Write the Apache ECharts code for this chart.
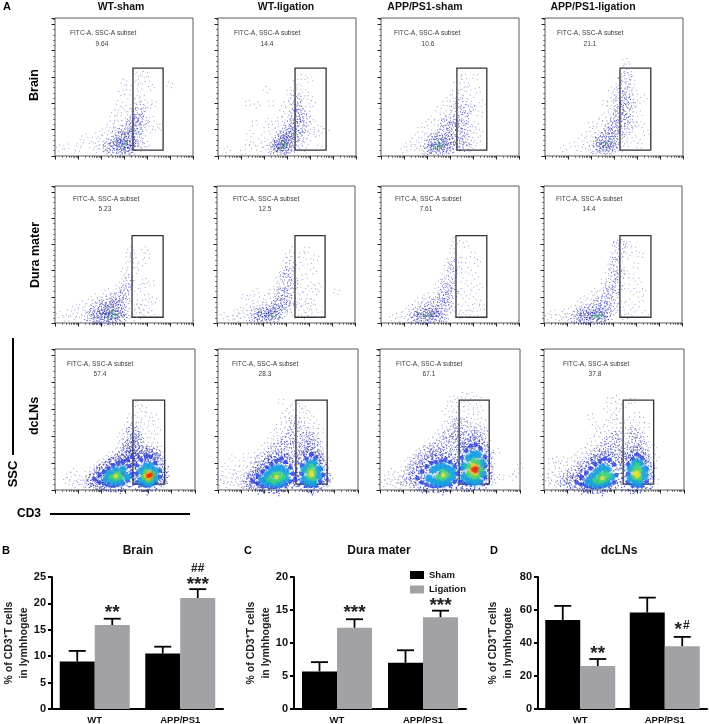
<!DOCTYPE html>
<html><head><meta charset="utf-8">
<style>html,body{margin:0;background:#fff}#main{width:709px;height:724px;filter:blur(0.35px)}</style>
<script src="https://cdn.jsdelivr.net/npm/echarts@6/dist/echarts.min.js"></script>
</head><body><div id="main"></div>
<script>
// ---- bar chart data
const barCats=['WT','APP/PS1'];
const brainSham=[9.0,10.5], brainLig=[15.9,21.0], brainShamErr=[11.0,11.8], brainLigErr=[17.1,22.7];
const duraSham=[5.7,7.0], duraLig=[12.3,13.9], duraShamErr=[7.1,8.9], duraLigErr=[13.6,14.9];
const lnSham=[54,58.5], lnLig=[26,38], lnShamErr=[62.5,67.5], lnLigErr=[30.3,43.7];
// significance marks: [category, height, text]
const brainMarks=[[0,18.9,'**'],[1,24.2,'***'],[1,26.6,'##']];
const duraMarks=[[0,15.2,'***'],[1,16.3,'***']];
const lnMarks=[[0,35.7,'**'],[1,50.5,'*#']];
// ---- flow panel texts
const colTitles=['WT-sham','WT-ligation','APP/PS1-sham','APP/PS1-ligation'];
const gateLabel='FITC-A, SSC-A subset';
const pctBrain=['9.64','14.4','10.6','21.1'], pctDura=['5.23','12.5','7.61','14.4'], pctLn=['57.4','28.3','67.1','37.8'];
// ---- gates (x: tenths of a log decade, y: SSC in K)
const gateY=[11,167];
const gateXBrain=[[33.9,47],[33.5,47],[33,46],[32.6,46]];
const gateXDura=[[33.5,47],[33.9,47],[32.6,46],[33,46.5]];
const gateXLn=[[33.4,47],[33.4,46.8],[33.9,46.8],[33.9,47]];
// ---- events, flat x,y lists
const sparseB1=[2,15,5,18,10,14,11,25,13,36,16,20,17,30,18,13,19,42,20,24,20,16,21,33,22,50,22,13,23,28,24,60,24,38,25,72,26,50,26,82,27,60,28,72,28,100,29,88,29,120,30,62,30,140,31,90,32,70,32,130,33,110,33,78,34,95,35,120,35,150,36,140,36,105,37,132,37,160,38,40,38,110,39,155,39,90,40,22,40,146,41,96,41,50,42,130,42,70,43,100,39,18,36,16,37,24,50,135,46,55,44,55,38,14,35,28,33,84];
const denseB1=[24,20,26,15,27,24,28,18,29,30,30,14,30,22,31,26,31,36,32,18,32,44,33,24,33,30,34,40,34,20,35,50,29,38,28,13,26,29,25,17,23,14,30,48,33,58,35,62,36,70,36,80,34,66,31,52,27,42,32,12,34,13,36,34,37,56,37,90,38,68,29,22,31,16];
const greenB1=[29,20,31,24];
const sparseB2=[4,12,11,8,13,25,14,42,15,20,16,62,18,14,19,34,20,22,21,50,22,14,22,66,23,30,23,100,24,44,25,60,26,50,27,70,28,90,29,74,30,100,31,120,32,105,33,130,34,140,35,130,35,20,36,110,36,34,37,150,37,14,38,120,38,50,39,90,39,28,40,70,40,145,41,46,41,100,42,60,43,42,44,16,45,50,47,50,34,14,36,24,21,126,17,97,13,100,40,110];
const denseB2=[24,14,25,20,26,12,26,26,27,16,27,32,28,22,28,12,29,30,29,18,29,40,30,14,30,26,30,48,31,36,31,56,32,22,32,44,33,64,33,80,33,52,34,72,34,96,34,110,35,60,35,88,26,18,27,24,28,36,30,34,32,30,31,16,34,40,36,56,36,80,37,38,38,70];
const greenB2=[28,18,29,24,28,28,27,14,30,20];
const sparseB3=[10,12,12,22,14,16,15,34,16,20,17,50,18,14,19,36,19,60,20,26,21,46,22,70,23,40,24,64,25,88,26,56,27,76,28,100,29,80,30,110,31,92,32,120,33,105,33,140,34,130,34,150,35,120,36,110,36,150,37,135,37,80,38,60,38,128,39,40,39,110,40,20,40,90,41,150,41,60,42,30,42,125,43,80,43,44,44,100,35,14,38,14,40,50];
const denseB3=[20,12,21,18,22,14,23,24,23,12,24,18,25,32,25,14,26,22,26,40,27,16,27,28,28,48,28,20,29,34,29,14,30,42,30,24,31,56,31,16,32,30,32,66,33,48,33,86,34,60,34,24,35,100,35,40,36,72,36,18,37,50,37,30,38,90,22,30,24,34,27,12,28,60,30,70];
const greenB3=[25,20,26,16,24,14,27,22,25,26,23,18];
const sparseB4=[8,14,12,22,15,14,16,34,18,20,19,42,20,14,21,30,22,50,23,40,24,64,25,72,27,80,28,100,29,84,30,110,31,120,32,135,33,150,34,165,35,180,36,170,36,142,37,130,37,155,38,140,38,90,38,40,39,120,39,60,40,30,40,100,41,80,41,20,42,60,43,110,44,44,35,30,36,24,34,14,20,60,26,100,29,125];
const denseB4=[22,14,23,22,24,18,24,32,25,26,25,14,26,36,26,20,27,44,27,28,28,18,28,52,29,34,29,62,30,26,30,46,31,72,31,54,32,40,32,84,32,100,33,62,33,112,33,76,34,92,34,130,34,48,35,106,35,70,35,150,36,120,36,84,37,60,37,100,27,12,29,14,31,22];
const greenB4=[27,24,28,32,29,26];
const sparseD1=[2,16,5,8,6,20,8,12,9,30,10,6,11,22,12,36,13,12,14,28,15,40,16,22,17,50,18,6,19,42,21,50,23,60,25,52,27,60,28,72,29,66,30,80,30,100,31,92,32,112,32,130,33,120,33,140,34,128,35,110,35,100,36,60,36,24,37,40,37,14,38,115,38,70,38,30,39,20,39,140,40,50,40,128,41,34,42,18,42,76,43,44,34,10,35,30,39,80];
const denseD1=[15,14,16,8,17,20,18,12,18,28,19,6,20,18,20,34,21,10,21,26,22,42,22,6,23,16,23,30,24,10,24,22,24,38,25,6,25,16,25,28,26,46,26,12,27,22,27,36,28,8,28,18,28,50,29,30,29,12,30,42,30,56,31,20,31,66,32,80,22,14,20,10,26,34,23,24];
const greenD1=[24,20,25,24,26,18,25,12,23,10,27,16];
const sparseD2=[3,14,6,10,8,18,9,8,10,24,11,14,12,50,13,30,13,10,14,20,15,48,16,32,17,60,18,24,19,44,20,34,22,50,24,60,25,44,26,70,27,84,28,92,29,100,30,120,31,130,32,96,33,140,34,126,34,80,35,50,35,30,36,110,36,62,37,130,37,40,38,14,38,88,39,140,39,60,40,20,40,118,41,40,41,72,42,100,42,30,43,125,43,60,44,70,45,16,52,60,34,15,38,30,40,42];
const denseD2=[16,12,17,18,18,10,19,14,20,20,21,10,21,26,22,14,23,22,23,9,24,16,24,30,25,12,25,24,26,36,26,16,27,28,27,44,28,20,28,56,29,36,29,70,30,50,30,84,31,60,31,96,32,44,32,110,33,76,32,30];
const greenD2=[23,15,24,12,27,10];
const sparseD3=[5,10,8,16,9,6,11,22,12,10,13,30,14,20,15,36,16,26,17,44,18,32,19,40,20,52,22,44,24,60,25,74,26,56,27,80,28,96,29,110,30,120,31,138,32,150,33,126,33,160,34,100,34,30,35,60,35,14,36,120,36,80,37,46,37,150,38,20,38,100,39,70,39,30,40,130,40,56,41,90,41,18,42,40,42,115,43,70,44,30,33,16];
const denseD3=[14,8,15,14,16,10,17,18,18,8,18,24,19,12,20,18,20,8,21,28,21,14,22,10,22,22,23,16,23,34,24,10,24,24,25,14,25,42,26,30,26,18,27,50,27,10,28,36,28,62,29,48,29,80,30,70,31,96,31,56,32,110,30,30];
const greenD3=[21,14,22,16,19,14];
const sparseD4=[2,12,4,20,6,10,8,16,9,6,10,22,11,14,12,8,13,28,14,18,15,36,16,22,17,46,18,32,20,50,22,60,24,56,26,80,27,70,28,96,29,110,30,130,31,150,32,112,33,120,34,140,34,36,35,100,35,12,36,70,36,128,37,40,37,150,38,90,38,20,39,60,39,140,40,110,40,30,41,80,42,46,42,130,43,60,44,18,34,20];
const denseD4=[14,10,15,16,16,8,17,14,18,20,18,10,19,8,19,26,20,14,21,10,21,22,22,30,22,8,23,16,23,36,24,12,24,24,25,8,25,40,25,18,26,30,26,12,27,48,27,22,28,60,28,14,29,40,29,74,30,90,30,54,31,110,31,30,32,130,32,70,33,150,33,92];
const greenD4=[22,14,23,12,24,16,24,10,25,14,21,12];
// lymph-node panels
const sparseL1=[5,18,6,28,7,14,8,34,9,10,10,22,11,16,12,12,13,22,14,30,14,10,15,18,16,24,16,38,17,12,18,46,19,36,20,52,21,46,22,58,23,50,24,66,25,60,26,72,27,64,28,82,28,100,29,90,30,110,30,78,31,100,31,120,32,90,32,130,33,115,33,140,34,120,34,100,35,150,35,84,36,162,36,130,36,100,37,124,37,84,38,150,38,72,39,110,39,92,40,140,40,70,41,80,41,124,42,100,42,66,43,134,43,84,44,70,44,110,45,64,46,52,46,76,47,40,47,14,48,30,46,10];
const denseL1=[30,60,31,70,32,66,32,84,33,74,33,95,34,80,34,110,35,88,35,100,34,60,33,56,31,84,30,74,29,64,36,66,37,70,38,62,39,74,40,66,41,72,42,62,43,68,44,56,45,50,44,42,46,30,46,22,28,56,26,54,24,50,22,44,20,40,18,32,16,20,15,14,17,10,19,8,21,8,34,68,35,76,36,90,33,108];
const blueL1=[17,20,19,14,19,28,21,12,21,34,23,10,23,40,25,8,25,46,27,10,27,50,29,12,29,52,31,18,31,56,33,30,33,62,32,44,23,24,29,30,35,14,35,30,35,46,37,10,37,56,39,8,39,62,41,10,41,62,43,14,43,50,45,24,45,36,40,30];
const cyanL1=[22,20,23,30,25,16,26,36,28,16,29,38,31,24,25,26,37,18,37,36,39,14,39,44,41,14,41,44,43,22,43,36];
const limeL1=[24,24,26,22,27,30,28,24,38,24,39,34,41,22,42,30,40,18];
const yellowL1=[26,26,39,26,40,31,41,26,40,22];
const redL1=[40,26,41,28];
const sparseL2=[1,14,1,30,2,22,3,44,4,10,5,18,6,34,6,60,7,14,7,26,8,40,9,16,9,30,10,50,10,10,11,22,12,36,12,64,13,18,14,44,14,28,15,56,16,36,17,70,18,50,19,62,19,40,20,82,21,66,22,92,23,78,24,106,25,90,26,118,26,70,27,100,28,130,28,84,29,110,29,142,30,96,30,120,31,106,31,150,32,130,32,90,33,160,33,110,34,120,34,70,35,150,35,90,36,130,36,76,37,100,37,150,38,120,38,66,39,90,39,140,40,110,40,70,41,130,41,84,42,100,42,120,43,70,43,90,44,110,44,66,45,84,45,50,46,70,46,40,47,54,48,24,27,165];
const denseL2=[12,12,13,20,14,14,15,26,16,10,16,34,17,20,17,44,18,30,18,54,19,12,20,44,21,60,22,52,23,70,24,60,25,78,26,56,27,84,28,66,29,90,30,70,31,96,32,60,32,110,33,80,33,130,34,90,30,54,31,50,35,60,36,56,36,74,37,80,38,70,39,84,40,76,41,90,42,76,42,60,43,58,44,50,45,36,45,22,46,16,38,100,40,96,37,110];
const blueL2=[15,16,17,12,17,26,19,8,19,34,21,8,21,42,23,6,23,48,25,6,25,54,27,8,27,58,29,10,29,52,31,16,31,42,32,30,33,20,24,26,36,14,36,30,36,46,38,8,38,58,40,8,40,66,42,8,42,60,44,16,44,40,45,28];
const cyanL2=[19,18,21,14,21,28,23,14,23,36,25,12,25,40,27,14,27,40,29,20,29,34,37,20,37,38,39,14,39,48,41,14,41,50,43,26,43,38];
const limeL2=[22,20,24,16,24,28,26,20,26,30,28,24,39,24,39,36,41,22,41,34,40,44];
const yellowL2=[25,24,40,28,40,33];
const redL2=[];
const sparseL3=[2,12,3,24,4,16,5,34,6,14,7,28,8,8,9,20,10,14,10,40,11,28,12,54,12,18,13,36,14,10,14,60,15,44,16,28,16,68,17,50,18,74,19,58,20,84,21,66,22,92,23,78,24,100,25,86,26,110,27,94,28,122,28,146,29,104,30,160,30,130,31,112,31,170,32,140,32,100,33,150,33,120,34,166,34,132,35,110,35,150,36,176,36,126,37,104,37,160,38,130,38,110,39,176,39,146,40,120,40,160,41,100,41,136,42,170,42,116,43,150,43,96,44,128,44,100,45,110,45,80,46,90,46,50,47,64,47,30,48,46,49,24,50,72,52,24,58,30,57,24,60,44];
const denseL3=[10,20,12,30,13,14,14,40,15,24,15,50,16,12,17,34,17,58,18,44,19,66,20,54,21,72,22,62,23,76,24,70,25,80,26,66,27,90,28,72,29,100,30,80,31,110,32,90,32,70,33,122,33,100,34,110,34,84,35,124,36,96,37,84,38,100,39,110,40,90,41,100,42,90,43,110,44,84,45,66,46,40,46,24,47,18,35,76,34,60,36,78,45,52];
const blueL3=[16,22,18,14,18,34,20,10,20,44,22,8,22,50,24,8,24,52,26,8,26,54,28,10,28,56,30,10,30,52,32,16,32,44,33,30,26,30,35,16,35,40,35,60,37,12,37,74,39,12,39,82,41,14,41,84,43,14,43,78,45,24,45,44,45,62,41,50];
const cyanL3=[21,22,23,16,23,38,25,14,25,42,27,14,27,44,29,16,29,40,31,24,31,36,36,24,36,44,38,18,38,60,40,16,40,66,42,16,42,66,44,30,44,50];
const limeL3=[25,24,27,22,27,34,29,28,38,30,38,44,40,24,40,54,42,26,42,50,43,38];
const yellowL3=[27,28,39,36,41,30,41,44,40,46];
const redL3=[40,38,41,36,41,40];
const sparseL4=[0,24,1,12,1,36,2,18,3,28,3,54,4,14,5,34,5,56,6,10,6,46,7,24,8,40,8,14,9,56,10,30,11,18,11,50,12,36,13,60,14,26,14,48,15,66,16,40,17,74,18,56,19,80,20,66,21,94,22,70,23,104,24,82,25,112,26,90,27,124,27,150,28,102,28,166,29,130,29,110,30,136,30,100,31,144,31,170,32,120,32,156,33,100,33,130,34,120,34,76,35,160,35,90,36,110,36,70,37,130,37,84,38,166,38,100,39,120,39,76,40,140,40,90,41,110,41,72,42,130,42,84,43,100,43,60,44,120,44,70,45,84,45,40,46,60,46,24,47,78,47,44,48,16,48,60,22,120,20,136];
const denseL4=[8,18,9,10,10,24,11,12,12,30,13,14,14,36,15,20,16,44,17,28,18,50,19,14,20,58,21,46,22,66,23,54,24,72,25,60,26,80,27,66,28,90,29,72,30,96,31,76,32,100,33,84,32,66,34,60,35,56,36,72,37,60,38,84,39,64,40,90,41,70,42,80,42,56,43,60,44,46,44,30,45,22,38,106,40,104,31,56];
const blueL4=[14,14,16,10,16,24,18,8,18,32,20,6,20,40,22,6,22,48,24,6,24,54,26,8,26,58,28,10,28,56,30,14,30,48,31,28,24,26,36,14,36,30,36,48,38,8,38,58,40,8,40,66,42,8,42,60,44,16,44,40];
const cyanL4=[19,16,21,12,21,26,23,12,23,34,25,12,25,42,27,14,27,38,29,24,37,22,37,40,39,14,39,50,41,14,41,50,43,26,43,38];
const limeL4=[22,18,24,16,24,26,26,20,26,30,28,26,39,24,39,38,41,22,41,36,40,46];
const yellowL4=[25,22,40,26,40,32,39,30];
const redL4=[];
// ---- layout
const rows=[
 {top:18,h:138,lefts:[55,218,381,545],w:138,gx:gateXBrain,pct:pctBrain,
  lab:[[70,33],[234,33],[394,33],[557,33]],val:[[102,44],[267,44],[428,44],[590,44]],
  layers:[[sparseB1,denseB1,greenB1],[sparseB2,denseB2,greenB2],[sparseB3,denseB3,greenB3],[sparseB4,denseB4,greenB4]]},
 {top:186,h:137,lefts:[55,217,381,544],w:138,gx:gateXDura,pct:pctDura,
  lab:[[73,199],[233,199],[395,199],[556,199]],val:[[105,209],[265,209],[426,209],[589,209]],
  layers:[[sparseD1,denseD1,greenD1],[sparseD2,denseD2,greenD2],[sparseD3,denseD3,greenD3],[sparseD4,denseD4,greenD4]]},
 {top:349,h:141,lefts:[55,218,380,544],w:140,gx:gateXLn,pct:pctLn,
  lab:[[67,364],[232,364],[396,364],[563,364]],val:[[100,374],[265,374],[429,374],[595,374]],
  layers:[[sparseL1,denseL1,[],blueL1,cyanL1,limeL1,yellowL1,redL1],[sparseL2,denseL2,[],blueL2,cyanL2,limeL2,yellowL2,redL2],[sparseL3,denseL3,[],blueL3,cyanL3,limeL3,yellowL3,redL3],[sparseL4,denseL4,[],blueL4,cyanL4,limeL4,yellowL4,redL4]]}
];
// speckle glyphs: each read event position is drawn as a small spray of pixels
const sq=(x,y,s)=>`M${x} ${y}h${s}v${s}h${-s}z`;
const glyph=(list,s)=>'path://'+list.map(d=>sq(d[0],d[1],s)).join('');
const spray4=glyph([[0,3],[4.6,0],[8.6,5.5],[3,8.6]],1.4);
const spray14=glyph([[0,5],[1.5,1.5],[3,7.5],[4,3],[5.5,0],[6,5.5],[7.5,2.5],[9.2,0.5],[2,9.2],[5,9],[8,8],[9.2,4.5],[0.5,8],[7,6.8]],0.8);
const layerStyles=[
 {c:'#8386bb',s:7,z:2,sym:spray4},{c:'#2428a8',s:11,z:3,sym:spray14},{c:'#3fae6c',s:2.2,z:4},
 {c:'#2a3fe0',s:4.5,z:3},{c:'#169fe6',s:7,z:5},{c:'#38d47e',s:5.5,z:6},{c:'#e6e22e',s:4.5,z:7},{c:'#ee2c10',s:4.5,z:8}];
const pairs=a=>{const r=[];for(let i=0;i<a.length;i+=2)r.push([a[i],a[i+1]]);return r;};
const minorX=[];for(let d=0;d<6;d++)for(let k=2;k<10;k++)minorX.push(10*(d+Math.log10(k)));
const turn=(v,p)=>p.dataIndex*67%360;

const grid=[],xAxis=[],yAxis=[],series=[],graphic=[];
const txt=(x,y,text,font,extra)=>graphic.push({type:'text',x,y,rotation:(extra&&extra.rot)||0,z:50,silent:true,
  style:{text,font,fill:(extra&&extra.fill)||'#111',align:(extra&&extra.align)||'center',verticalAlign:'middle'}});
const F='"Liberation Sans",Arial,sans-serif';
rows.forEach(r=>{
 r.lefts.forEach((left,i)=>{
  const g=grid.length;
  grid.push({left,top:r.top,width:r.w,height:r.h,show:true,borderColor:'#5a5a5a',borderWidth:1,backgroundColor:'#fff',outerBoundsMode:'none'});
  const xi=xAxis.length;
  xAxis.push({gridIndex:g,type:'value',position:'bottom',min:0,max:60,interval:10,axisLabel:{show:false},splitLine:{show:false},axisLine:{show:false},
    axisTick:{length:3.5,lineStyle:{color:'#222',width:1}}});
  xAxis.push({gridIndex:g,type:'value',position:'bottom',min:0,max:60,interval:10,axisLabel:{show:false},splitLine:{show:false},axisLine:{show:false},
    axisTick:{length:1.8,customValues:minorX,lineStyle:{color:'#444',width:0.8}}});
  const yi=yAxis.length;
  yAxis.push({gridIndex:g,type:'value',min:0,max:262,interval:50,axisLabel:{show:false},splitLine:{show:false},axisLine:{show:false},
    axisTick:{length:3.5,lineStyle:{color:'#222',width:1}},minorTick:{show:true,splitNumber:5,length:1.8,lineStyle:{color:'#444',width:0.8}}});
  r.layers[i].forEach((arr,li)=>{
   if(!arr.length)return;
   const st=layerStyles[li];
   if(li===3) series.push({type:'scatter',xAxisIndex:xi,yAxisIndex:yi,data:pairs(arr),symbol:spray14,symbolSize:15,symbolRotate:turn,z:2,silent:true,itemStyle:{color:'#1a24b8'}});
   series.push({type:'scatter',xAxisIndex:xi,yAxisIndex:yi,data:pairs(arr),silent:true,z:st.z,symbolSize:st.s,
     ...(st.sym?{symbol:st.sym,symbolRotate:turn}:{}),
     itemStyle:li>=4?{color:st.c,shadowBlur:4,shadowColor:st.c}:{color:st.c}});
  });
  const gx=r.gx[i];
  series.push({type:'scatter',xAxisIndex:xi,yAxisIndex:yi,data:[],z:9,silent:true,
    markArea:{silent:true,itemStyle:{color:'rgba(0,0,0,0)',borderColor:'#333',borderWidth:1.3},
      data:[[{coord:[gx[0],gateY[0]]},{coord:[gx[1],gateY[1]]}]]}});
  txt(r.lab[i][0],r.lab[i][1],gateLabel,'6.6px '+F,{align:'left',fill:'#3c3c3c'});
  txt(r.val[i][0],r.val[i][1],r.pct[i],'6.6px '+F,{fill:'#3c3c3c'});
 });
});
// bar panels
const GREY='#a2a2a6';
const barPanels=[
 {left:52,w:171,max:25,step:5,gap:20,sham:brainSham,lig:brainLig,se:brainShamErr,le:brainLigErr,marks:brainMarks},
 {left:294,w:172,max:20,step:5,gap:20,sham:duraSham,lig:duraLig,se:duraShamErr,le:duraLigErr,marks:duraMarks},
 {left:538,w:169,max:80,step:20,gap:22,sham:lnSham,lig:lnLig,se:lnShamErr,le:lnLigErr,marks:lnMarks}];
const HALF=17.5;
const bold=(size,color)=>({fontFamily:'Liberation Sans',fontWeight:'bold',fontSize:size,color});
const markEl=(t,x,y)=>{
  const h=t.startsWith('#');
  return {type:'text',x,y:y+(h?0:4),style:{text:t,align:'center',verticalAlign:'middle',fill:'#222',font:(h?'bold 12px ':'bold 19px ')+F}};
};
barPanels.forEach(p=>{
 const g=grid.length, xi=xAxis.length, yi=yAxis.length;
 grid.push({left:p.left,top:577,width:p.w,height:132,outerBoundsMode:'none'});
 xAxis.push({gridIndex:g,type:'category',data:barCats,axisTick:{show:false},axisLine:{lineStyle:{color:'#000',width:2}},
   axisLabel:{margin:6,...bold(9.5,'#111')}});
 yAxis.push({gridIndex:g,type:'value',min:0,max:p.max,interval:p.step,splitLine:{show:false},
   axisLine:{show:true,lineStyle:{color:'#000',width:2}},axisTick:{show:true,length:4,lineStyle:{color:'#000',width:2}},
   axisLabel:{margin:6,...bold(11,'#111')},
   name:'% of CD3\u207AT cells\nin lymhhogate',nameLocation:'middle',nameGap:p.gap,nameRotate:90,nameMoveOverlap:false,
   nameTextStyle:{...bold(10.5,'#222'),lineHeight:15.5}});
 const err=(vals,tops,side,name)=>({type:'custom',name,xAxisIndex:xi,yAxisIndex:yi,z:1,silent:true,
   data:vals.map((v,i)=>[i,v,tops[i]]),encode:{x:0,y:[1,2]},
   renderItem:(ps,api)=>{
    const a=api.coord([api.value(0),api.value(1)]), b=api.coord([api.value(0),api.value(2)]);
    const x=a[0]+side*HALF;
    return {type:'group',children:[
      {type:'line',shape:{x1:x,y1:a[1],x2:x,y2:b[1]},style:{stroke:'#000',lineWidth:1.8}},
      {type:'line',shape:{x1:x-8.5,y1:b[1],x2:x+8.5,y2:b[1]},style:{stroke:'#000',lineWidth:1.8}}]};
   }});
 series.push(err(p.sham,p.se,-1,'errS'),err(p.lig,p.le,1,'errL'));
 series.push({type:'bar',name:'Sham',xAxisIndex:xi,yAxisIndex:yi,data:p.sham,barWidth:35,barGap:'0%',itemStyle:{color:'#000'},z:2,silent:true});
 series.push({type:'bar',name:'Ligation',xAxisIndex:xi,yAxisIndex:yi,data:p.lig,barWidth:35,barGap:'0%',itemStyle:{color:GREY},z:2,silent:true});
 series.push({type:'custom',xAxisIndex:xi,yAxisIndex:yi,z:5,silent:true,clip:false,
   data:p.marks.map(m=>[m[0],m[1]]),encode:{x:0,y:1},
   renderItem:(ps,api)=>{
    const c=api.coord([api.value(0),api.value(1)]), t=p.marks[ps.dataIndex][2], x=c[0]+HALF;
    if(t==='*#') return {type:'group',children:[markEl('*',x-4,c[1]),markEl('#',x+4,c[1])]};
    return markEl(t,x,c[1]);
   }});
});
// free text
txt(7,7,'A','bold 11px '+F,{fill:'#000'});
[121,286,425,593].forEach((x,i)=>txt(x,7,colTitles[i],'bold 10.5px '+F));
const ROT=Math.PI/2;
txt(35,85,'Brain','bold 12.5px '+F,{rot:ROT,fill:'#000'});
txt(36,255,'Dura mater','bold 12.5px '+F,{rot:ROT,fill:'#000'});
txt(35,416,'dcLNs','bold 12.5px '+F,{rot:ROT,fill:'#000'});
txt(13,474,'SSC','bold 13px '+F,{rot:ROT,fill:'#000'});
txt(29,514,'CD3','bold 12px '+F,{fill:'#000'});
graphic.push({type:'line',shape:{x1:13,y1:338,x2:13,y2:455},style:{stroke:'#000',lineWidth:2},silent:true});
graphic.push({type:'line',shape:{x1:50,y1:514,x2:190,y2:514},style:{stroke:'#000',lineWidth:2},silent:true});
txt(6,551,'B','bold 11px '+F,{fill:'#000'});
txt(248,551,'C','bold 11px '+F,{fill:'#000'});
txt(494,551,'D','bold 11px '+F,{fill:'#000'});
txt(138,551,'Brain','bold 12px '+F);
txt(379,551,'Dura mater','bold 12px '+F);
txt(619,551,'dcLNs','bold 12px '+F);

const chart=echarts.init(document.getElementById('main'),null,{renderer:'canvas'});
chart.setOption({animation:false,backgroundColor:'#fff',grid,xAxis,yAxis,series,graphic:{elements:graphic},
 legend:{show:true,data:['Sham','Ligation'],orient:'vertical',left:405,top:565,itemWidth:14,itemHeight:8,itemGap:4.5,selectedMode:false,
   icon:'rect',textStyle:bold(9.5,'#111')}});
</script></body></html>
